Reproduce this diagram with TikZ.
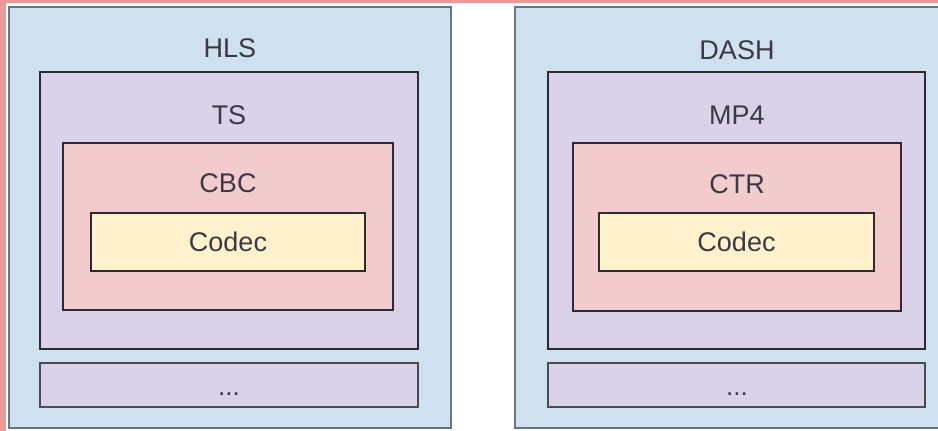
\documentclass[tikz,border=0pt]{standalone}
\usepackage{fontspec}
\setmainfont{Liberation Sans}
\definecolor{framepink}{HTML}{EA9999}
\definecolor{boxblue}{HTML}{CFE0EE}
\definecolor{boxpurple}{HTML}{D9D2E9}
\definecolor{boxred}{HTML}{F2CCCC}
\definecolor{boxyellow}{HTML}{FFF2CC}
\definecolor{edgegray}{HTML}{6B7580}
\definecolor{edgedark}{HTML}{2B2B33}
\definecolor{labelgray}{HTML}{3A3A44}
\begin{document}
\begin{tikzpicture}[x=1pt,y=-1pt,
  panel/.style={draw=edgegray, fill=boxblue, line width=1.6pt, inner sep=0pt},
  container/.style={draw=edgedark, fill=boxpurple, line width=1.6pt, inner sep=0pt},
  cipher/.style={draw=edgedark, fill=boxred, line width=1.6pt, inner sep=0pt},
  payload/.style={draw=edgedark, fill=boxyellow, line width=1.6pt, inner sep=0pt,
    text=labelgray, font=\fontsize{27}{32}\selectfont},
  caption/.style={text=labelgray, font=\fontsize{27}{32}\selectfont, inner sep=0pt}]
\useasboundingbox (0,0) rectangle (938,431);
\clip (0,0) rectangle (938,431);
\fill[white] (0,0) rectangle (938,431);
% pink frame along the top and left edges
\fill[framepink] (0,0) rectangle (938,3);
\fill[framepink] (0,0) rectangle (6,431);

% HLS stack
\node[panel, minimum width=442pt, minimum height=421pt] (hls) at (230,217.5) {};
\node[caption] (hlslabel) at (230,48) {HLS};
\node[container, minimum width=378pt, minimum height=277pt] (ts) at (229,210.5) {};
\node[caption] (tslabel) at (229,115) {TS};
\node[cipher, minimum width=330pt, minimum height=167pt] (cbc) at (228,226.5) {};
\node[caption] (cbclabel) at (228,183) {CBC};
\node[payload, minimum width=274pt, minimum height=58pt] (codecl) at (228,242) {Codec};
\node[container, draw=edgedark!85, minimum width=378pt, minimum height=44pt] (hlsmore) at (229,385) {};
\node[caption, font=\fontsize{26}{30}\selectfont] (hlsdots) at (229,394) {...};

% DASH stack
\node[panel, minimum width=445pt, minimum height=421pt] (dash) at (737.5,217.5) {};
\node[caption] (dashlabel) at (737,50) {DASH};
\node[container, minimum width=377pt, minimum height=277pt] (mp4) at (736.5,210.5) {};
\node[caption] (mp4label) at (737,115) {MP4};
\node[cipher, minimum width=328pt, minimum height=168pt] (ctr) at (737,227) {};
\node[caption] (ctrlabel) at (737,184) {CTR};
\node[payload, minimum width=275pt, minimum height=58pt] (codecr) at (736.5,242) {Codec};
\node[container, draw=edgedark!85, minimum width=377pt, minimum height=44pt] (dashmore) at (736.5,385) {};
\node[caption, font=\fontsize{26}{30}\selectfont] (dashdots) at (737,394) {...};
\end{tikzpicture}
\end{document}
